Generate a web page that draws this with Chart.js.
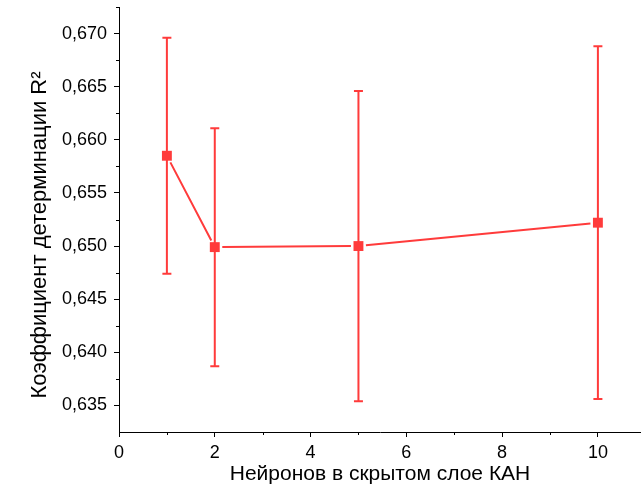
<!DOCTYPE html>
<html>
<head>
<meta charset="utf-8">
<script src="https://cdn.jsdelivr.net/npm/chart.js@4.4.1/dist/chart.umd.min.js"></script>
<style>
  html, body { margin: 0; padding: 0; background: #fff; }
  canvas { display: block; }
</style>
</head>
<body>
<canvas id="chart" width="641" height="495"></canvas>
<script>
// Neurons in the hidden KAN layer vs. coefficient of determination (mean ± error)
const neurons = [1, 2, 5, 10];
const r2Mean = [0.6585, 0.6499, 0.6500, 0.6522];
const r2Err = [0.0111, 0.0112, 0.0146, 0.0166];

const xMajorTicks = [0, 2, 4, 6, 8, 10];
const xMinorTicks = [1, 3, 5, 7, 9];
const yMajorTicks = [0.635, 0.640, 0.645, 0.650, 0.655, 0.660, 0.665, 0.670];
const yMinorTicks = [0.6375, 0.6425, 0.6475, 0.6525, 0.6575, 0.6625, 0.6675, 0.6725];

const yTitle = 'Коэффициент детерминации R²';
const xTitle = 'Нейронов в скрытом слое КАН';

const RED = '#ff3b3b';
const FONT = "'Liberation Sans', Arial, sans-serif";
const LINE_GAP = 7.5; // connecting line stops short of each marker

// Error bars with caps, then the connecting line with small gaps at the markers
const errorBarsAndLine = {
  id: 'errorBarsAndLine',
  beforeDatasetsDraw(chart) {
    const {ctx, scales: {x, y}} = chart;
    ctx.save();
    ctx.strokeStyle = RED;
    ctx.lineWidth = 2;
    const pts = neurons.map((n, i) => [x.getPixelForValue(n), y.getPixelForValue(r2Mean[i])]);
    neurons.forEach((n, i) => {
      const px = pts[i][0];
      const top = y.getPixelForValue(r2Mean[i] + r2Err[i]);
      const bot = y.getPixelForValue(r2Mean[i] - r2Err[i]);
      ctx.beginPath();
      ctx.moveTo(px, top); ctx.lineTo(px, bot);
      ctx.moveTo(px - 4.5, top); ctx.lineTo(px + 4.5, top);
      ctx.moveTo(px - 4.5, bot); ctx.lineTo(px + 4.5, bot);
      ctx.stroke();
    });
    ctx.beginPath();
    for (let i = 0; i < pts.length - 1; i++) {
      const [x0, y0] = pts[i];
      const [x1, y1] = pts[i + 1];
      const len = Math.hypot(x1 - x0, y1 - y0);
      const ux = (x1 - x0) / len, uy = (y1 - y0) / len;
      ctx.moveTo(x0 + ux * LINE_GAP, y0 + uy * LINE_GAP);
      ctx.lineTo(x1 - ux * LINE_GAP, y1 - uy * LINE_GAP);
    }
    ctx.stroke();
    ctx.restore();
  }
};

// Short outward minor ticks on both axes, plus the rotated y-axis title
const axisExtras = {
  id: 'axisExtras',
  afterDraw(chart) {
    const {ctx, scales: {x, y}, chartArea} = chart;
    ctx.save();
    ctx.strokeStyle = '#000';
    ctx.lineWidth = 1;
    ctx.beginPath();
    xMinorTicks.forEach(v => {
      const px = Math.round(x.getPixelForValue(v)) + 0.5;
      ctx.moveTo(px, chartArea.bottom); ctx.lineTo(px, chartArea.bottom + 3);
    });
    yMinorTicks.forEach(v => {
      const py = Math.round(y.getPixelForValue(v)) + 0.5;
      ctx.moveTo(chartArea.left, py); ctx.lineTo(chartArea.left - 3, py);
    });
    ctx.stroke();

    ctx.fillStyle = '#000';
    ctx.font = '22px ' + FONT;
    ctx.textAlign = 'center';
    ctx.textBaseline = 'middle';
    ctx.translate(40, 235);
    ctx.rotate(-Math.PI / 2);
    ctx.fillText(yTitle, 0, 0);
    ctx.restore();
  }
};

new Chart(document.getElementById('chart'), {
  type: 'scatter',
  data: {
    datasets: [{
      data: neurons.map((n, i) => ({x: n, y: r2Mean[i]})),
      showLine: false,
      borderColor: RED,
      backgroundColor: RED,
      pointStyle: 'rect',
      pointRadius: 7,
      pointBorderWidth: 0,
      pointBackgroundColor: RED
    }]
  },
  options: {
    responsive: false,
    animation: false,
    layout: {autoPadding: false, padding: {top: 7, right: 0, left: 0, bottom: 0}},
    plugins: {legend: {display: false}, tooltip: {enabled: false}},
    scales: {
      x: {
        type: 'linear',
        min: 0,
        max: 10.9,
        afterBuildTicks(scale) { scale.ticks = xMajorTicks.map(v => ({value: v})); },
        afterFit(scale) { scale.height = 63; scale.paddingLeft = 0; scale.paddingRight = 0; },
        border: {display: true, color: '#000', width: 1},
        grid: {display: true, drawOnChartArea: false, drawTicks: true, tickLength: 5, color: '#000'},
        ticks: {
          color: '#000',
          padding: 5,
          font: {family: FONT, size: 18},
          maxRotation: 0,
          callback: v => String(v)
        },
        title: {
          display: true,
          text: xTitle,
          color: '#000',
          font: {family: FONT, size: 21},
          padding: {top: 0, bottom: 8}
        }
      },
      y: {
        type: 'linear',
        min: 0.6325,
        max: 0.6725,
        afterBuildTicks(scale) { scale.ticks = yMajorTicks.map(v => ({value: v})); },
        afterFit(scale) { scale.width = 119; scale.paddingTop = 0; scale.paddingBottom = 0; },
        border: {display: true, color: '#000', width: 1},
        grid: {display: true, drawOnChartArea: false, drawTicks: true, tickLength: 5, color: '#000'},
        ticks: {
          color: '#000',
          padding: 7,
          font: {family: FONT, size: 18},
          callback: v => Number(v).toFixed(3).replace('.', ',')
        },
        title: {display: false}
      }
    }
  },
  plugins: [errorBarsAndLine, axisExtras]
});
</script>
</body>
</html>
